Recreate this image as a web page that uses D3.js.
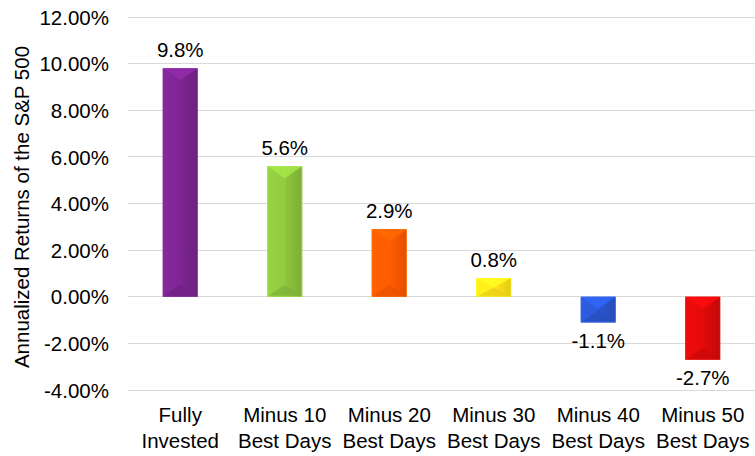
<!DOCTYPE html>
<html><head><meta charset="utf-8">
<script src="https://cdn.jsdelivr.net/npm/d3@7"></script>
<style>body{margin:0;background:#fff}svg{display:block}</style>
</head><body>
<svg id="c" width="755" height="456"></svg>
<script>
const categories = [["Fully","Invested"],["Minus 10","Best Days"],["Minus 20","Best Days"],["Minus 30","Best Days"],["Minus 40","Best Days"],["Minus 50","Best Days"]];
const values = [9.8, 5.6, 2.9, 0.8, -1.1, -2.7];
const valueLabels = ["9.8%","5.6%","2.9%","0.8%","-1.1%","-2.7%"];
const colors = ["#7B2590","#8CC43E","#FF5A00","#FFE31A","#2A56D0","#DD0A0A"];
const yTicks = [-4,-2,0,2,4,6,8,10,12];

const svg = d3.select("#c");
const font = "Liberation Sans, Arial, sans-serif";
const fs = 20.5;
const x = d3.scaleBand().domain(d3.range(categories.length)).range([128,755]).paddingInner(0.665).paddingOuter(0.3325);
const y = d3.scaleLinear().domain([-4,12]).range([390,17]);

const defs = svg.append("defs");
colors.forEach((c,i)=>{
  const g = defs.append("linearGradient").attr("id","g"+i).attr("x1","0").attr("x2","1").attr("y1","0").attr("y2","0");
  const base = d3.color(c);
  g.append("stop").attr("offset","0").attr("stop-color",base.brighter(0.25));
  g.append("stop").attr("offset","0.5").attr("stop-color",base.brighter(0.1));
  g.append("stop").attr("offset","0.55").attr("stop-color",base);
  g.append("stop").attr("offset","1").attr("stop-color",base.darker(0.35));
});

// gridlines
svg.append("g").selectAll("line").data(yTicks).join("line")
  .attr("x1",128).attr("x2",755).attr("y1",d=>y(d)).attr("y2",d=>y(d))
  .attr("stroke","#d9d9d9").attr("stroke-width",1).attr("shape-rendering","crispEdges");

// y axis labels
const yAxis = d3.axisLeft(y).tickValues(yTicks).tickSize(0).tickPadding(0).tickFormat(d=>d.toFixed(2)+"%");
const ya = svg.append("g").attr("transform","translate(109,0)").call(yAxis);
ya.select(".domain").remove();
ya.selectAll("text").attr("font-family",font).attr("font-size",fs).attr("fill","#000").attr("dy","0.35em");

// axis title
svg.append("text").attr("transform","translate(29,207) rotate(-90)").attr("text-anchor","middle")
  .attr("font-family",font).attr("font-size",fs).attr("fill","#000").text("Annualized Returns of the S&P 500");

// bars
const bars = svg.append("g").selectAll("g").data(values).join("g");
bars.each(function(v,i){
  const g = d3.select(this);
  const x0 = x(i), w = x.bandwidth();
  const yt = Math.min(y(v),y(0)), yb = Math.max(y(v),y(0));
  const h = yb-yt;
  const base = d3.color(colors[i]);
  g.append("rect").attr("x",x0).attr("y",yt).attr("width",w).attr("height",h).attr("fill","url(#g"+i+")");
  const bv = Math.min(12, h/2);
  const cx = x0 + w/2;
  g.append("path").attr("d",`M${x0},${yt}L${x0+w},${yt}L${cx},${yt+bv}Z`).attr("fill",base.brighter(0.5)).attr("opacity",0.8);
  g.append("path").attr("d",`M${x0},${yb}L${x0+w},${yb}L${cx},${yb-bv}Z`).attr("fill",base.darker(0.3)).attr("opacity",0.7);
  g.append("path").attr("d",`M${x0},${yt}L${cx},${yt+bv}L${cx},${yb-bv}L${x0},${yb}Z`).attr("fill",base.brighter(0.15)).attr("opacity",0.35);
  g.append("rect").attr("x",x0+0.5).attr("y",yt+0.5).attr("width",w-1).attr("height",h-1).attr("fill","none").attr("stroke",base.brighter(0.6)).attr("stroke-opacity",0.5);
});

// value labels
svg.append("g").selectAll("text").data(values).join("text")
  .attr("x",(d,i)=>x(i)+x.bandwidth()/2)
  .attr("y",d=> d>=0 ? y(d)-11 : y(d)+25.5)
  .attr("text-anchor","middle").attr("font-family",font).attr("font-size",fs).attr("fill","#000")
  .text((d,i)=>valueLabels[i]);

// category labels
const cat = svg.append("g").selectAll("text").data(categories).join("text")
  .attr("x",(d,i)=>x(i)+x.bandwidth()/2).attr("y",422)
  .attr("text-anchor","middle").attr("font-family",font).attr("font-size",fs).attr("fill","#000");
cat.each(function(d){
  const t = d3.select(this);
  t.append("tspan").attr("x",t.attr("x")).attr("dy",0).text(d[0]);
  t.append("tspan").attr("x",t.attr("x")).attr("dy",26).text(d[1]);
});
</script>
</body></html>
